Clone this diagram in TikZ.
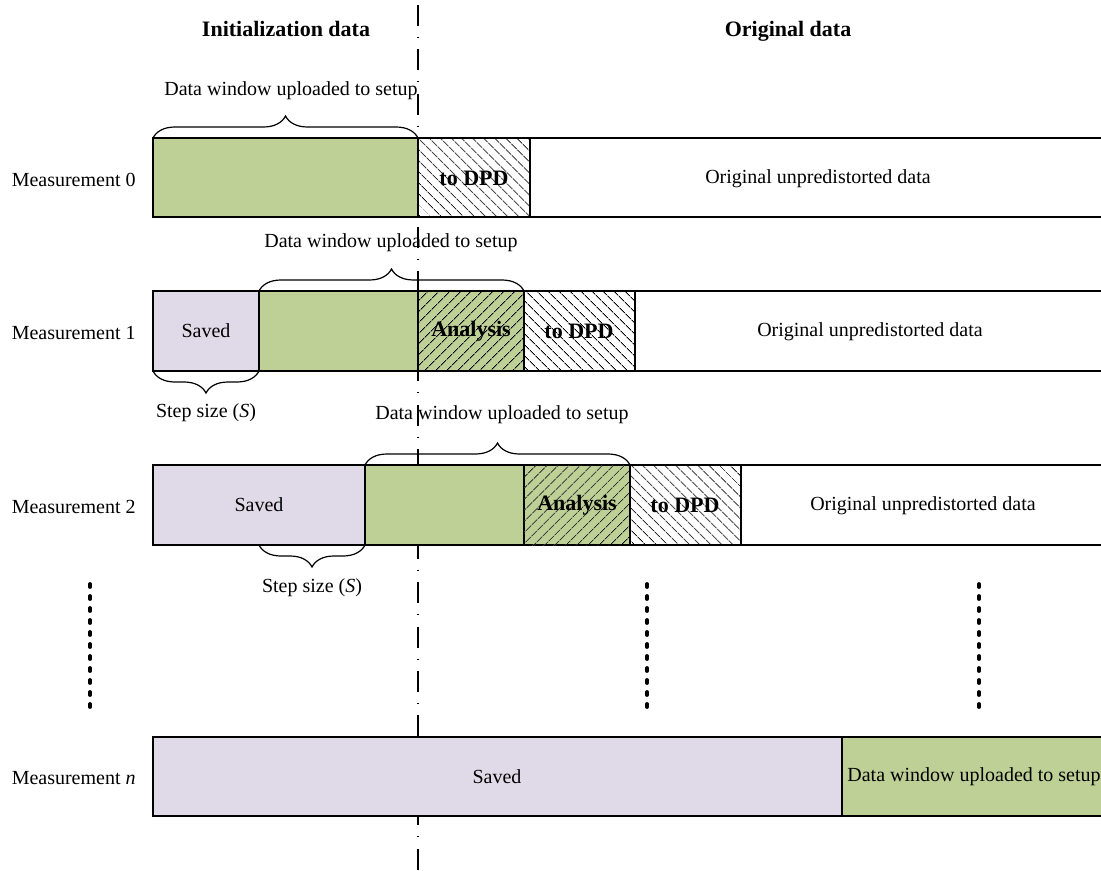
\documentclass[tikz,border=0pt]{standalone}
\usepackage{fontspec}
\setmainfont{Liberation Serif}
\usetikzlibrary{patterns.meta,decorations.pathreplacing}

\definecolor{windowgreen}{RGB}{190,208,150}
\definecolor{savedlilac}{RGB}{224,218,232}

\tikzset{seg/.style={draw,line width=0.6pt},
window seg/.style={seg,fill=windowgreen},
saved seg/.style={seg,fill=savedlilac},
analysis seg/.style={seg,fill=windowgreen,postaction={pattern={Lines[angle=45,distance=4pt,line width=0.45pt]}}},
dpd seg/.style={seg,pattern={Lines[angle=-45,distance=4pt,line width=0.45pt]}},
seg text/.style={font=\normalsize,inner sep=0pt},
seg bold/.style={font=\fontsize{11}{13}\selectfont\bfseries,inner sep=0pt},
row label/.style={font=\normalsize,anchor=east,inner sep=0pt},
head label/.style={font=\fontsize{11}{13}\selectfont\bfseries,inner sep=0pt},
brace line/.style={decorate,decoration={brace,amplitude=11pt},line width=0.6pt},
brace label/.style={font=\normalsize,inner sep=0pt},
gap dots/.style={line width=1.9pt,line cap=round,dash pattern=on 1.5pt off 4.5pt},
split line/.style={line width=0.6pt,dash pattern=on 10.5pt off 5.5pt on 0.4pt off 5.8pt}}

\begin{document}
\begin{tikzpicture}[x=0.5pt,y=-0.5pt]
\useasboundingbox (0,0) rectangle (1101,871);

%% Coordinates of the split line, the braces and the dots.
\coordinate (splittop) at (418,5);
\coordinate (splitbot) at (418,871);
\coordinate (b0l) at (153,138);
\coordinate (b0r) at (418,138);
\coordinate (b1l) at (259,291);
\coordinate (b1r) at (524,291);
\coordinate (b2l) at (365,465);
\coordinate (b2r) at (630,465);
\coordinate (s1l) at (153,371);
\coordinate (s1r) at (259,371);
\coordinate (s2l) at (259,545);
\coordinate (s2r) at (365,545);
\coordinate (d1t) at (90,584);
\coordinate (d1b) at (90,712);
\coordinate (d2t) at (647,584);
\coordinate (d2b) at (647,707);
\coordinate (d3t) at (979,584);
\coordinate (d3b) at (979,707);

%% split between initialization and original data
\draw [split line] (splittop) -- (splitbot);

%% headings
\node [head label] (hinit) at (286,29) {Initialization data};
\node [head label] (horig) at (788,31) {Original data};

%% measurement 0
\filldraw [window seg] (153,138) rectangle (418,217);
\draw [dpd seg] (418,138) rectangle (530,217);
\draw [seg] (530,138) rectangle (1106,217);
\node [seg bold] (t0dpd) at (474,178) {to DPD};
\node [seg text] (t0orig) at (818,179) {Original unpredistorted data};
\node [row label] (m0) at (136,180) {Measurement 0};

%% measurement 1
\filldraw [saved seg] (153,291) rectangle (259,371);
\filldraw [window seg] (259,291) rectangle (418,371);
\filldraw [analysis seg] (418,291) rectangle (524,371);
\draw [dpd seg] (524,291) rectangle (635,371);
\draw [seg] (635,291) rectangle (1106,371);
\node [seg text] (t1saved) at (206,331) {Saved};
\node [seg bold] (t1ana) at (471,331) {Analysis};
\node [seg bold] (t1dpd) at (579,331) {to DPD};
\node [seg text] (t1orig) at (870,332) {Original unpredistorted data};
\node [row label] (m1) at (136,333) {Measurement 1};

%% measurement 2
\filldraw [saved seg] (153,465) rectangle (365,545);
\filldraw [window seg] (365,465) rectangle (524,545);
\filldraw [analysis seg] (524,465) rectangle (630,545);
\draw [dpd seg] (630,465) rectangle (741,545);
\draw [seg] (741,465) rectangle (1106,545);
\node [seg text] (t2saved) at (259,505) {Saved};
\node [seg bold] (t2ana) at (577,505) {Analysis};
\node [seg bold] (t2dpd) at (685,505) {to DPD};
\node [seg text] (t2orig) at (923,506) {Original unpredistorted data};
\node [row label] (m2) at (136,507) {Measurement 2};

%% measurement n
\filldraw [saved seg] (153,737) rectangle (842,816);
\filldraw [window seg] (842,737) rectangle (1106,816);
\node [seg text] (tnsaved) at (497,777) {Saved};
\node [seg text] (tnwin) at (974,777) {Data window uploaded to setup};
\node [row label] (mn) at (136,778) {Measurement \textit{n}};

%% braces
\draw [brace line] (b0l) -- (b0r);
\draw [brace line] (b1l) -- (b1r);
\draw [brace line] (b2l) -- (b2r);
\draw [brace line] (s1r) -- (s1l);
\draw [brace line] (s2r) -- (s2l);

%% brace labels
\node [brace label] (w0) at (291,91) {Data window uploaded to setup};
\node [brace label] (w1) at (391,243) {Data window uploaded to setup};
\node [brace label] (w2) at (502,415) {Data window uploaded to setup};
\node [brace label] (st1) at (206,413) {Step size (\textit{S})};
\node [brace label] (st2) at (312,588) {Step size (\textit{S})};

%% skipped measurements
\draw [gap dots] (d1t) -- (d1b);
\draw [gap dots] (d2t) -- (d2b);
\draw [gap dots] (d3t) -- (d3b);

\end{tikzpicture}
\end{document}
